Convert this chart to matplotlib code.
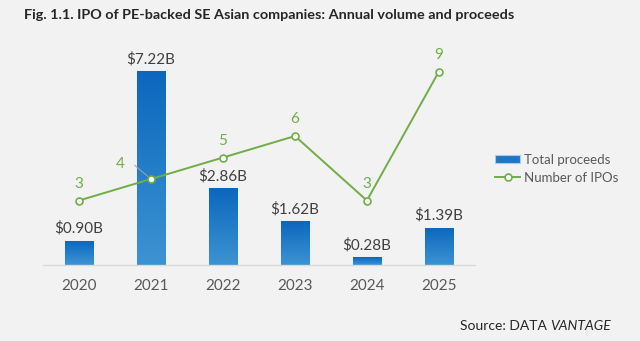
import numpy as np
import matplotlib
matplotlib.use("Agg")
import matplotlib.pyplot as plt
from matplotlib.colors import LinearSegmentedColormap

plt.rcParams['font.family'] = ['Lato', 'DejaVu Sans']

years = ["2020", "2021", "2022", "2023", "2024", "2025"]
proceeds = [0.90, 7.22, 2.86, 1.62, 0.28, 1.39]
proceed_labels = ["$0.90B", "$7.22B", "$2.86B", "$1.62B", "$0.28B", "$1.39B"]
num_ipos = [3, 4, 5, 6, 3, 9]

bg = "#f2f2f2"
green = "#70ad47"
grey_txt = "#595959"

fig = plt.figure(figsize=(6.4, 3.41), dpi=100, facecolor=bg)
ax = fig.add_axes([0.0672, 0.2229, 0.6748, 0.6598])
ax.set_facecolor(bg)
x = np.arange(len(years))

bar_w = 0.39
bars = ax.bar(x, proceeds, width=bar_w, color="#1f77c4", edgecolor="#a9cbe9", linewidth=0.8, zorder=2)

# vertical gradient inside each bar
cmap = LinearSegmentedColormap.from_list("bluegrad", ["#3d93d2", "#0b67bd"])
grad = np.linspace(0, 1, 256).reshape(-1, 1)
for b in bars:
    x0, y0 = b.get_x(), b.get_y()
    w, h = b.get_width(), b.get_height()
    im = ax.imshow(grad, extent=[x0, x0 + w, y0, y0 + h], origin="lower",
                   cmap=cmap, aspect="auto", zorder=2.1)
    im.set_clip_path(b)

for xi, v, lab in zip(x, proceeds, proceed_labels):
    ax.annotate(lab, (xi, v), xytext=(0, 3.5), textcoords="offset points",
                ha="center", va="bottom", fontsize=11, color="#404040")

ax.set_xlim(-0.5, 5.5)
ax.set_ylim(0, 8.37)
ax.set_yticks([])
for s in ["top", "right", "left"]:
    ax.spines[s].set_visible(False)
ax.spines["bottom"].set_color("#d9d9d9")
ax.spines["bottom"].set_linewidth(1)
ax.set_xticks(x)
ax.set_xticklabels(years, fontsize=11, color=grey_txt)
ax.tick_params(axis="x", length=0, pad=10)

ax2 = ax.twinx()
ax2.set_ylim(0, 10.47)
ax2.set_yticks([])
for s in ax2.spines.values():
    s.set_visible(False)
line, = ax2.plot(x, num_ipos, color=green, linewidth=1.4, marker="o", markersize=5,
                 markerfacecolor="white", markeredgecolor=green, markeredgewidth=1.2, zorder=3)

for i, (xi, v) in enumerate(zip(x, num_ipos)):
    if i == 1:
        ax2.annotate(str(v), (xi, v), xytext=(-22, 10.5), textcoords="offset points",
                     ha="center", va="center", fontsize=11, color=green,
                     arrowprops=dict(arrowstyle="-", color="#a6a6a6", lw=0.7,
                                     connectionstyle="angle,angleA=0,angleB=140,rad=0",
                                     shrinkA=5, shrinkB=3))
    else:
        ax2.annotate(str(v), (xi, v), xytext=(0, 7), textcoords="offset points",
                     ha="center", va="bottom", fontsize=11, color=green)

leg = fig.legend([bars, line], ["Total proceeds", "Number of IPOs"],
                 loc="center left", bbox_to_anchor=(0.755, 0.505), frameon=False,
                 fontsize=9.5, handlelength=1.9, handleheight=0.6, handletextpad=0.3,
                 labelspacing=0.45, labelcolor=grey_txt)

fig.text(0.0375, 0.955, "Fig. 1.1. IPO of PE-backed SE Asian companies: Annual volume and proceeds",
         fontsize=10.4, fontweight="bold", color="#262626", ha="left", va="center")

fig.text(0.86, 0.045, "Source: DATA ", fontsize=10, color="#262626", ha="right", va="center")
fig.text(0.86, 0.045, "VANTAGE", fontsize=10, style="italic", color="#262626", ha="left", va="center")

fig.savefig("out.png", dpi=100, facecolor=bg)
